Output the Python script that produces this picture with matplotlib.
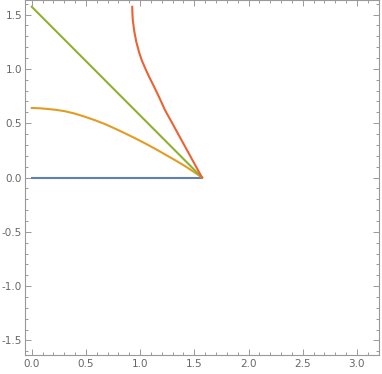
import numpy as np
import matplotlib
matplotlib.use("Agg")
import matplotlib.pyplot as plt
from matplotlib.ticker import MultipleLocator

# curves (x, y)
blue_x = [0.0, 1.5708]
blue_y = [0.0, 0.0]

green_x = [0.0, 1.5708]
green_y = [1.5708, 0.0]

orange_x = [0.0, 0.061, 0.122, 0.214, 0.306, 0.398, 0.491, 0.583, 0.675, 0.768,
            0.860, 0.952, 1.044, 1.137, 1.229, 1.321, 1.413, 1.492, 1.5708]
orange_y = [0.640, 0.638, 0.633, 0.624, 0.610, 0.588, 0.559, 0.527, 0.492, 0.450,
            0.407, 0.362, 0.315, 0.265, 0.213, 0.160, 0.106, 0.054, 0.0]

red_x = [0.927, 0.928, 0.932, 0.945, 0.964, 0.991, 1.014, 1.049, 1.086, 1.121,
         1.170, 1.229, 1.296, 1.356, 1.406, 1.461, 1.516, 1.5708]
red_y = [1.571, 1.52, 1.45, 1.35, 1.25, 1.15, 1.081, 1.00, 0.92, 0.851,
         0.75, 0.621, 0.50, 0.391, 0.30, 0.20, 0.10, 0.0]

colors = {"blue": "#5E81B5", "orange": "#E19C24", "green": "#8FB032", "red": "#EB6235"}

fig = plt.figure(figsize=(3.82, 3.74), dpi=100)
ax = fig.add_axes([25 / 382, 19 / 374, 354 / 382, 355 / 374])

lw = 1.5
ax.plot(blue_x, blue_y, color=colors["blue"], lw=lw)
ax.plot(orange_x, orange_y, color=colors["orange"], lw=lw)
ax.plot(green_x, green_y, color=colors["green"], lw=lw)
ax.plot(red_x, red_y, color=colors["red"], lw=lw)

pad = 0.02 * np.pi
ax.set_xlim(-pad, np.pi + pad)
ax.set_ylim(-np.pi / 2 - pad, np.pi / 2 + pad)

ax.xaxis.set_major_locator(MultipleLocator(0.5))
ax.xaxis.set_minor_locator(MultipleLocator(0.1))
ax.yaxis.set_major_locator(MultipleLocator(0.5))
ax.yaxis.set_minor_locator(MultipleLocator(0.1))
fmt = plt.FuncFormatter(lambda v, p: f"{v:.1f}")
ax.xaxis.set_major_formatter(fmt)
ax.yaxis.set_major_formatter(fmt)

spine_c = "#999999"
for s in ax.spines.values():
    s.set_color(spine_c)
    s.set_linewidth(0.8)
ax.tick_params(which="both", direction="in", top=True, right=True, color=spine_c, width=0.7,
               labelsize=7.5, labelcolor="#666666")
ax.tick_params(which="major", length=4, pad=3)
ax.tick_params(which="minor", length=2)
ax.tick_params(axis="y", which="major", pad=2)

fig.savefig("out.png", dpi=100)
